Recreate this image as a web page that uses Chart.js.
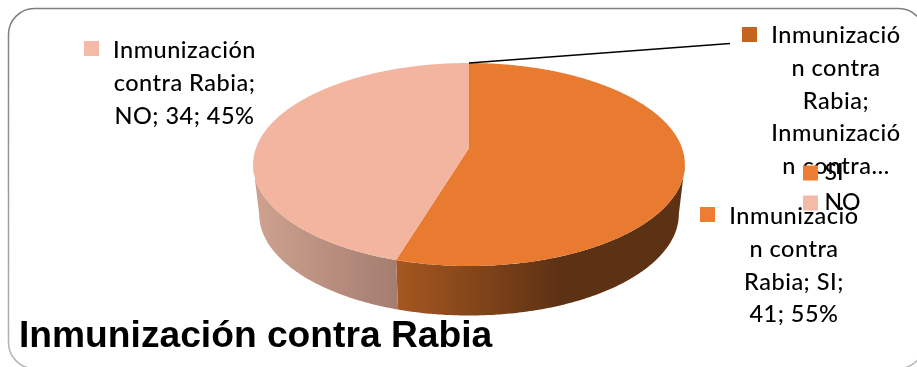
<!DOCTYPE html>
<html lang="es">
<head>
<meta charset="utf-8">
<title>Inmunización contra Rabia</title>
<script src="https://cdn.jsdelivr.net/npm/chart.js@4/dist/chart.umd.min.js"></script>
<style>
  html, body { margin: 0; padding: 0; background: #fff; }
  canvas { display: block; }
</style>
</head>
<body>
<canvas id="pie" width="917" height="367"></canvas>
<script>
// Chart contents
const seriesTitle = 'Inmunización contra Rabia';
const categories = ['SI', 'NO', seriesTitle];
const counts = [41, 34, 0];

// Slice and key colours
const topColors = ['#E97B30', '#F3B5A0', '#C4651F'];
const keyColors = ['#ED7D31', '#F4B9A7', '#C4651F'];
const wallStops = [
  [[0, '#A5571F'], [0.58, '#5D3114'], [1, '#5D3114']],
  [[0, '#CDA18E'], [1, '#A47D70']],
  [[0, '#000'], [1, '#000']]
];

const total = counts.reduce((a, b) => a + b, 0);
const pct = i => Math.round(counts[i] / total * 100);

// Data labels, wrapped by hand the way the narrow label boxes break them
const labelLines = [
  ['Inmunizació', 'n contra', 'Rabia; SI;', `${counts[0]}; ${pct(0)}%`],
  ['Inmunización', 'contra Rabia;', `NO; ${counts[1]}; ${pct(1)}%`],
  ['Inmunizació', 'n contra', 'Rabia;', 'Inmunizació', 'n contra…']
];
const labelBoxes = [
  { key: [700, 207], cx: 794, base: 224 },
  { key: [84, 41], cx: 184.5, base: 58 },
  { key: [742, 27], cx: 836, base: 43 }
];
const labelFont = '500 23.5px Lato, "Open Sans", sans-serif';
const labelStep = 32.8;

// Tilted disc: a perspective mapping of the unit circle onto the page
const disc = { cx: 469, rx: 213, c: -0.1626, ya: 74.76, yb: 148,
               wallDrop: 49.5, wallScale: 0.972 };
function project(theta, lower) {
  const u = Math.cos(theta), v = Math.sin(theta);
  const w = 1 + disc.c * v;
  let x = disc.rx * u / w;
  let y = (disc.ya * v + disc.yb) / w;
  if (lower) { x *= disc.wallScale; y += disc.wallDrop; }
  return [disc.cx + x, y];
}
function traceRim(ctx, from, to, lower, startNew) {
  const n = Math.max(2, Math.ceil(Math.abs(to - from) / 0.01));
  for (let i = 0; i <= n; i++) {
    const p = project(from + (to - from) * i / n, lower);
    if (i === 0 && startNew) ctx.moveTo(p[0], p[1]); else ctx.lineTo(p[0], p[1]);
  }
}

// Frame and data labels sit underneath the key and the disc
const backdrop = {
  id: 'backdrop',
  beforeDraw(chart) {
    const ctx = chart.ctx;
    ctx.save();
    const edge = ctx.createLinearGradient(0, 8, 0, 367);
    edge.addColorStop(0, '#7f7f7f');
    edge.addColorStop(1, '#b5b5b5');
    ctx.strokeStyle = edge;
    ctx.lineWidth = 1.5;
    ctx.beginPath();
    ctx.roundRect(8.5, 8.5, 916, 360, 26);
    ctx.stroke();

    ctx.font = labelFont;
    ctx.letterSpacing = '0.5px';
    ctx.textAlign = 'center';
    ctx.textBaseline = 'alphabetic';
    labelLines.forEach((lines, i) => {
      const box = labelBoxes[i];
      ctx.fillStyle = keyColors[i];
      ctx.fillRect(box.key[0], box.key[1], 15, 15);
      ctx.fillStyle = '#000';
      lines.forEach((line, k) => ctx.fillText(line, box.cx, box.base + k * labelStep));
    });
    ctx.letterSpacing = '0px';
    ctx.restore();
  }
};

// Paints the arcs computed by the doughnut controller as a solid tilted disc
const solidDisc = {
  id: 'solidDisc',
  afterLayout(chart) {
    // The key overlaps the upper-right label, so it is placed by hand
    const key = chart.legend;
    const w = key.width, h = key.height;
    key.left = 801; key.right = 801 + w;
    key.top = 154.5; key.bottom = 154.5 + h;
  },
  beforeDatasetDraw(chart, args) {
    const ctx = chart.ctx;
    const arcs = chart.getDatasetMeta(args.index).data;
    const visibleFrom = Math.asin(-disc.c);
    const visibleTo = Math.PI - visibleFrom;
    ctx.save();
    arcs.forEach((arc, i) => {
      const lo = Math.max(arc.startAngle, visibleFrom);
      const hi = Math.min(arc.endAngle, visibleTo);
      if (hi <= lo) return;
      const xa = project(hi, true)[0], xb = project(lo, true)[0];
      const grad = ctx.createLinearGradient(xa, 0, xb, 0);
      wallStops[i].forEach(s => grad.addColorStop(s[0], s[1]));
      ctx.fillStyle = grad;
      ctx.beginPath();
      traceRim(ctx, lo, hi, false, true);
      traceRim(ctx, hi, lo, true, false);
      ctx.closePath();
      ctx.fill();
    });
    arcs.forEach((arc, i) => {
      if (arc.endAngle <= arc.startAngle) return;
      ctx.fillStyle = topColors[i];
      ctx.beginPath();
      ctx.moveTo(disc.cx, disc.yb);
      traceRim(ctx, arc.startAngle, arc.endAngle, false, false);
      ctx.closePath();
      ctx.fill();
    });
    ctx.restore();
    return false;
  },
  afterDatasetsDraw(chart) {
    // Leader from the empty slice out to its label
    const arc = chart.getDatasetMeta(0).data[2];
    const from = project(arc.startAngle, false);
    const ctx = chart.ctx;
    ctx.save();
    ctx.strokeStyle = '#000';
    ctx.lineWidth = 1.4;
    ctx.beginPath();
    ctx.moveTo(from[0], from[1]);
    ctx.lineTo(730, 43.5);
    ctx.stroke();
    ctx.restore();
  }
};

new Chart(document.getElementById('pie'), {
  type: 'pie',
  data: {
    labels: categories,
    datasets: [{ data: counts, backgroundColor: topColors, borderWidth: 0 }]
  },
  options: {
    responsive: false,
    animation: false,
    layout: { padding: { left: 19, right: 0, top: 0, bottom: 8 } },
    plugins: {
      tooltip: { enabled: false },
      title: {
        display: true,
        text: seriesTitle,
        position: 'bottom',
        align: 'start',
        color: '#000',
        font: { family: '"Liberation Sans", Arial, sans-serif', weight: 'bold', size: 37.2 },
        padding: { top: 0, bottom: 0 }
      },
      legend: {
        position: 'right',
        align: 'start',
        labels: {
          usePointStyle: true,
          boxWidth: 5,
          boxHeight: 15,
          padding: 7,
          color: '#000',
          font: { family: 'Lato, "Open Sans", sans-serif', size: 23, weight: '500' },
          generateLabels: () => categories.slice(0, 2).map((text, i) => ({
            text, fillStyle: keyColors[i], strokeStyle: keyColors[i],
            lineWidth: 0, pointStyle: 'rect', index: i
          }))
        }
      }
    }
  },
  plugins: [backdrop, solidDisc]
});
</script>
</body>
</html>
